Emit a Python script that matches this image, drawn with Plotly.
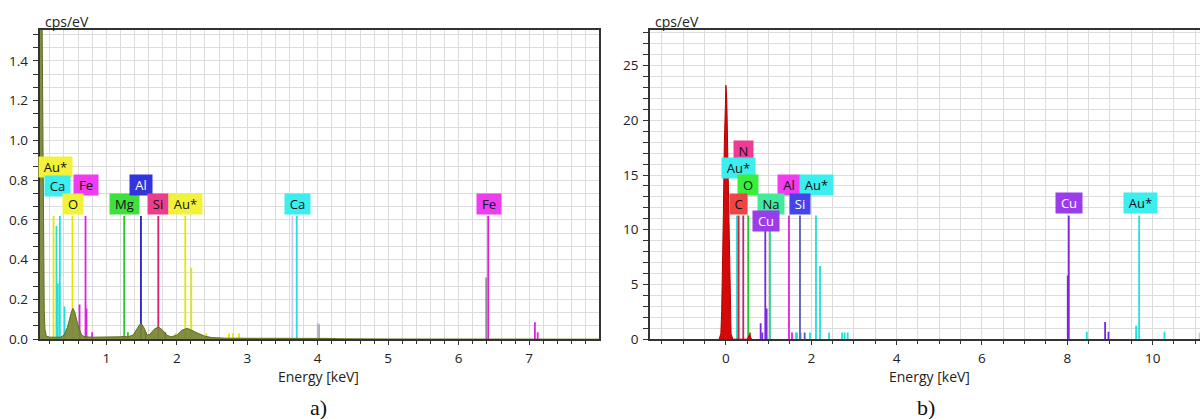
import plotly.graph_objects as go

# ================= DATA =================
# ---- panel a) ----
A_SPEC_E = [0.053, 0.08, 0.09, 0.10, 0.11, 0.12, 0.13, 0.15, 0.20, 0.25, 0.30, 0.35, 0.40, 0.45,
            0.50, 0.525, 0.55, 0.60, 0.65, 0.70, 0.80, 0.90, 1.00, 1.10, 1.20, 1.25, 1.30, 1.38,
            1.43, 1.49, 1.54, 1.58, 1.62, 1.68, 1.74, 1.80, 1.86, 1.92, 2.00, 2.07, 2.15, 2.22,
            2.30, 2.40, 2.50, 2.70, 3.00, 3.50, 4.00, 4.20, 4.30, 5.00, 7.99]
A_SPEC_Y = [2.50, 2.20, 1.60, 0.90, 0.45, 0.15, 0.05, 0.015, 0.010, 0.010, 0.008, 0.010, 0.020, 0.060,
            0.130, 0.155, 0.140, 0.070, 0.020, 0.012, 0.010, 0.010, 0.012, 0.012, 0.012, 0.014, 0.012, 0.020,
            0.050, 0.082, 0.055, 0.020, 0.025, 0.050, 0.062, 0.045, 0.020, 0.012, 0.020, 0.045, 0.055, 0.045,
            0.030, 0.015, 0.008, 0.005, 0.004, 0.004, 0.004, 0.004, 0.002, 0.001, 0.0]

A_LINE_E = [0.252, 0.294, 0.313, 0.342, 0.408, 0.521, 0.621, 0.706, 0.720, 0.800,
            1.255, 1.307, 1.492, 1.558, 1.738, 1.837, 1.653, 1.690, 1.984, 2.121,
            2.206, 2.420, 2.742, 2.798, 2.883, 3.640, 3.702, 4.000, 4.018, 6.390,
            6.418, 7.081, 7.120]
A_LINE_H = [0.62, 0.57, 0.28, 0.62, 0.165, 0.62, 0.175, 0.62, 0.155, 0.035,
            0.62, 0.035, 0.62, 0.035, 0.62, 0.035, 0.03, 0.03, 0.03, 0.62,
            0.36, 0.03, 0.03, 0.03, 0.03, 0.62, 0.62, 0.08, 0.075, 0.31,
            0.62, 0.085, 0.035]
A_LINE_EL = ["Au*", "Ca", "Ca", "Ca", "Ca", "O", "Fe", "Fe", "Fe", "Fe",
             "Mg", "Mg", "Al", "Al", "Si", "Si", "Au*", "Au*", "Au*", "Au*",
             "Au*", "Au*", "Au*", "Au*", "Au*", "other", "Ca", "other2", "Ca", "other3",
             "Fe", "Fe", "Fe"]

A_LABEL_TXT = ["Au*", "Ca", "Fe", "O", "Mg", "Al", "Si", "Au*", "Ca", "Fe"]
A_LABEL_E = [0.273, 0.302, 0.711, 0.526, 1.264, 1.497, 1.740, 2.130, 3.709, 6.428]
A_LABEL_Y = [0.865, 0.770, 0.775, 0.679, 0.679, 0.775, 0.679, 0.679, 0.679, 0.679]

A_XTICKS = [1, 2, 3, 4, 5, 6, 7]
A_YTICKS = [0.0, 0.2, 0.4, 0.6, 0.8, 1.0, 1.2, 1.4]

# ---- panel b) ----
B_SPEC_E = [-0.16, -0.12, -0.10, -0.08, -0.06, -0.04, -0.02, 0.0, 0.02, 0.04, 0.06, 0.08, 0.10, 0.12, 0.16,
            0.50, 0.55, 0.60]
B_SPEC_Y = [0.0, 0.5, 2.5, 6.0, 11.5, 17.5, 21.8, 23.2, 21.8, 17.5, 11.5, 6.0, 2.5, 0.5, 0.0,
            0.0, 0.4, 0.0]

B_LINE_E = [0.258, 0.297, 0.406, 0.523, 0.563, 0.813, 0.852, 0.922, 0.954, 1.032,
            1.477, 1.548, 1.641, 1.665, 1.735, 1.750, 1.845, 1.970, 2.110, 2.204,
            2.415, 2.720, 2.783, 2.853, 8.011, 8.035, 8.457, 8.886, 8.965, 9.613,
            9.684, 10.277, 11.10]
B_LINE_H = [11.3, 11.3, 11.3, 11.3, 0.6, 1.46, 0.6, 11.3, 2.8, 11.3,
            11.3, 0.6, 0.6, 0.6, 11.3, 0.6, 0.6, 0.6, 11.3, 6.68,
            0.6, 0.6, 0.6, 0.6, 5.83, 11.3, 0.67, 1.58, 0.67, 1.22,
            11.3, 0.67, 0.6]
B_LINE_EL = ["Au*", "C", "N", "O", "N", "Cu", "Cu", "Cu", "Cu", "Na",
             "Al", "Al", "Au*", "Au*", "Si", "Au*", "Si", "Au*", "Au*", "Au*",
             "Au*", "Au*", "Au*", "Au*", "Cu", "Cu", "Au*", "Cu", "Cu", "Au*",
             "Au*", "Au*", "other"]

B_LABEL_TXT = ["N", "Au*", "O", "Al", "Au*", "C", "Na", "Si", "Cu", "Cu", "Au*"]
B_LABEL_E = [0.410, 0.293, 0.528, 1.477, 2.122, 0.305, 1.055, 1.747, 0.938, 8.042, 9.707]
B_LABEL_Y = [17.18, 15.63, 14.07, 14.07, 14.07, 12.35, 12.35, 12.35, 10.76, 12.40, 12.40]

B_XTICKS = [0, 2, 4, 6, 8, 10]
B_YTICKS = [0, 5, 10, 15, 20, 25]

# ================= STYLE =================
A_LINE_COL = {"Au*": "#e6e600", "Ca": "#22dede", "Fe": "#e020e0", "O": "#e6e600", "Mg": "#30c030",
              "Al": "#2020c8", "Si": "#e02070", "other": "#cfcbe8", "other2": "#f0a0b0",
              "other3": "#909090"}
A_BOX = {"Au*": ("#f2f23a", "#111"), "Ca": ("#3ceeee", "#111"), "Fe": ("#ee3cee", "#111"),
         "O": ("#f2f23a", "#111"), "Mg": ("#3ee03e", "#111"), "Al": ("#3434dc", "#ffffff"),
         "Si": ("#ee3c8c", "#111")}
B_LINE_COL = {"Au*": "#22dede", "C": "#d02030", "N": "#c8206a", "O": "#20d020", "Cu": "#7a28d8",
              "Na": "#30d080", "Al": "#e020e0", "Si": "#5a5ab0", "other": "#f0c0a0"}
B_BOX = {"N": ("#ee3c96", "#111"), "Au*": ("#3ceeee", "#111"), "O": ("#3cee3c", "#111"),
         "Al": ("#ee3cee", "#111"), "C": ("#ee4444", "#111"), "Na": ("#44ea9c", "#111"),
         "Si": ("#4444ea", "#ffffff"), "Cu": ("#9a3cea", "#ffffff")}
BOX_W = {"Au*": 33, "Ca": 25, "Fe": 24, "O": 20, "Mg": 29, "Al": 22, "Si": 20, "C": 17,
         "Na": 26, "N": 19, "Cu": 26}

FONT = "Open Sans"
GRID = "#dcdcdc"
AXC = "#333333"
FIG_W = 1200
FIG_H = 427           # layout height
H_EFF = 419           # height actually shown in the window


def py(px):
    """reference pixel row -> paper y"""
    return (H_EFF - px) / H_EFF


fig = go.Figure()


def add_lines(E, H, EL, colmap, xa, ya):
    groups = {}
    for e, h, el in zip(E, H, EL):
        groups.setdefault(el, ([], []))
        groups[el][0].extend([e, e, None])
        groups[el][1].extend([0, h, None])
    for el, (xs, ys) in groups.items():
        fig.add_trace(go.Scatter(x=xs, y=ys, mode="lines", xaxis=xa, yaxis=ya,
                                 line=dict(color=colmap[el], width=1.8),
                                 hoverinfo="skip", showlegend=False))


add_lines(A_LINE_E, A_LINE_H, A_LINE_EL, A_LINE_COL, "x", "y")
fig.add_trace(go.Scatter(x=A_SPEC_E, y=A_SPEC_Y, mode="lines", fill="tozeroy",
                         line=dict(color="#5f6e23", width=1), fillcolor="rgba(118,132,52,0.92)",
                         xaxis="x", yaxis="y", showlegend=False))

add_lines(B_LINE_E, B_LINE_H, B_LINE_EL, B_LINE_COL, "x2", "y2")
fig.add_trace(go.Scatter(x=B_SPEC_E, y=B_SPEC_Y, mode="lines", fill="tozeroy",
                         line=dict(color="#b00000", width=1), fillcolor="#d40a0a",
                         xaxis="x2", yaxis="y2", showlegend=False))

ann = []
for txt, e, y in zip(A_LABEL_TXT, A_LABEL_E, A_LABEL_Y):
    bg, fc = A_BOX[txt]
    ann.append(dict(x=e, y=y, xref="x", yref="y", text=txt, showarrow=False,
                    xanchor="center", yanchor="middle", bgcolor=bg, borderpad=1,
                    width=BOX_W[txt] - 2, height=18, font=dict(family=FONT, size=13, color=fc)))
for txt, e, y in zip(B_LABEL_TXT, B_LABEL_E, B_LABEL_Y):
    bg, fc = B_BOX[txt]
    ann.append(dict(x=e, y=y, xref="x2", yref="y2", text=txt, showarrow=False,
                    xanchor="center", yanchor="middle", bgcolor=bg, borderpad=1,
                    width=BOX_W[txt] - 2, height=18, font=dict(family=FONT, size=13, color=fc)))

yd = [py(340), py(30)]

for xc in [42.5, 652.5]:
    ann.append(dict(x=xc / FIG_W, y=py(21.5), xref="paper", yref="paper", text="cps/eV",
                    showarrow=False, xanchor="left", yanchor="middle",
                    font=dict(family=FONT, size=14, color="#222")))
for xc in [318.5, 929.5]:
    ann.append(dict(x=xc / FIG_W, y=py(377), xref="paper", yref="paper", text="Energy [keV]",
                    showarrow=False, xanchor="center", yanchor="middle",
                    font=dict(family=FONT, size=14, color="#222")))
for xc, t in [(318, "a)"), (926, "b)")]:
    ann.append(dict(x=xc / FIG_W, y=py(408), xref="paper", yref="paper", text=t,
                    showarrow=False, xanchor="center", yanchor="middle",
                    font=dict(family="Liberation Serif", size=22, color="#111")))

common_x = dict(showgrid=True, gridcolor=GRID, gridwidth=1, zeroline=False, showline=True,
                linecolor=AXC, linewidth=1.5, ticks="outside", ticklen=4, tickcolor=AXC,
                ticklabelstandoff=2,
                tickfont=dict(family=FONT, size=13.5, color="#222"), mirror=True)
common_y = dict(showgrid=True, gridcolor=GRID, gridwidth=1, zeroline=False, showline=True,
                linecolor=AXC, linewidth=1.5, ticks="outside", ticklen=5, tickcolor=AXC,
                ticklabelstandoff=2,
                tickfont=dict(family=FONT, size=13.5, color="#222"))

fig.update_layout(
    width=FIG_W, height=FIG_H, margin=dict(l=0, r=0, t=0, b=0),
    paper_bgcolor="white", plot_bgcolor="white", showlegend=False,
    xaxis=dict(domain=[39.5 / FIG_W, 599 / FIG_W], range=[0.053, 7.99], tickvals=A_XTICKS,
               minor=dict(dtick=0.2, tick0=0, ticks="outside", ticklen=3, tickcolor=AXC,
                          showgrid=True, gridcolor=GRID),
               anchor="y", **common_x),
    yaxis=dict(domain=yd, range=[0, 1.556], tickvals=A_YTICKS, tickformat=".1f",
               minor=dict(dtick=0.2 / 3, tick0=0, ticks="outside", ticklen=5, tickcolor=AXC,
                          showgrid=True, gridcolor=GRID),
               anchor="x", mirror=True, **common_y),
    xaxis2=dict(domain=[650 / FIG_W, 1.0], range=[-1.78, 11.11], tickvals=B_XTICKS,
                minor=dict(dtick=0.5, tick0=0, ticks="outside", ticklen=3, tickcolor=AXC,
                           showgrid=True, gridcolor=GRID),
                anchor="y2", **common_x),
    yaxis2=dict(domain=yd, range=[0, 28.26], tickvals=B_YTICKS,
                minor=dict(dtick=1, tick0=0, ticks="outside", ticklen=5, tickcolor=AXC,
                           showgrid=True, gridcolor=GRID),
                anchor="x2", mirror=False, **common_y),
    annotations=ann,
)

fig.write_html("out.html")
